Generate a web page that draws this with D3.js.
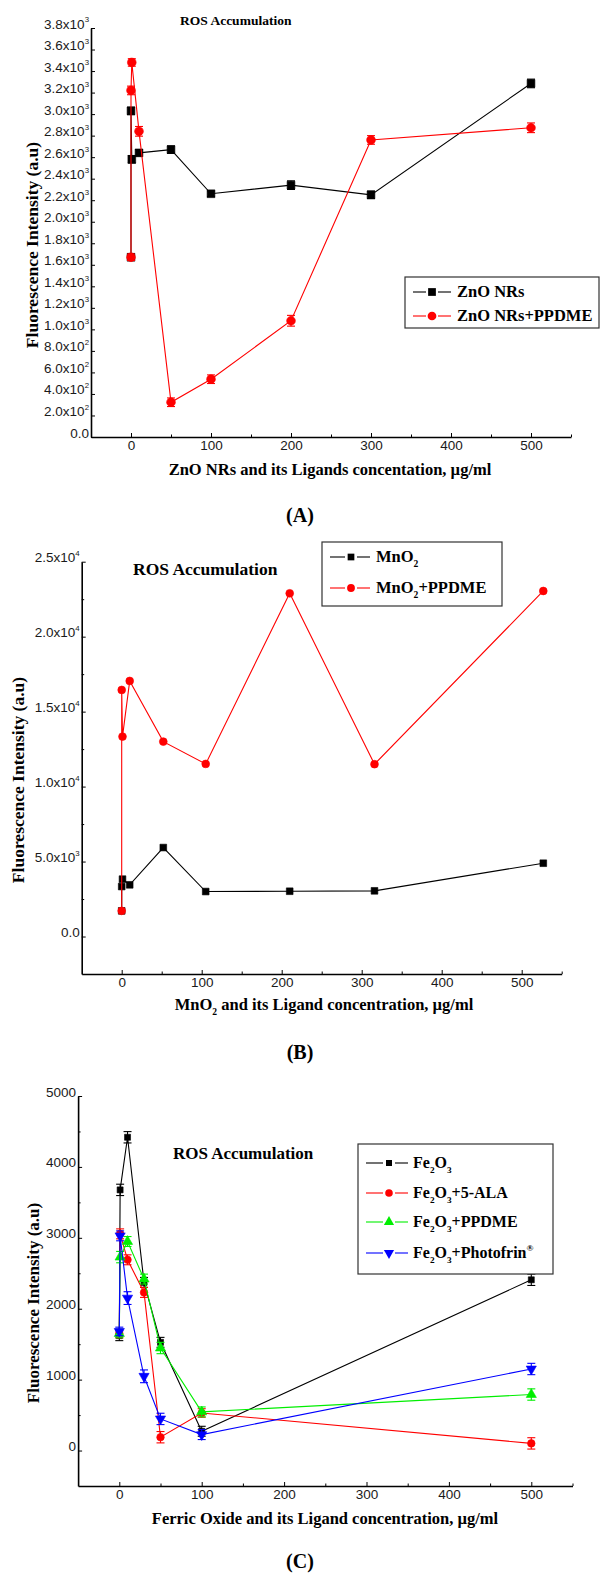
<!DOCTYPE html>
<html>
<head>
<meta charset="utf-8">
<script src="https://cdn.jsdelivr.net/npm/d3@7"></script>
<style>
  body { margin: 0; background: #fff; }
  svg { display: block; }
</style>
</head>
<body>
<div id="chart"></div>
<script>
// ---- Panel A: ZnO NRs ----
const concA = [0, 0, 1, 10, 50, 100, 200, 300, 500];
const znoNRs = [1670, 3030, 2580, 2640, 2670, 2260, 2340, 2250, 3285];
const znoNRsErr = [30, 35, 35, 30, 35, 25, 40, 35, 40];
const znoPpdme = [1670, 3220, 3480, 2840, 323, 537, 1080, 2760, 2873];
const znoPpdmeErr = [30, 40, 35, 45, 40, 40, 50, 40, 45];
const ticksA = d3.range(0, 3801, 200);

const concB = [0, 0, 1, 10, 52, 105, 210, 316, 527];
const mno2 = [1711, 3333, 3827, 3447, 5933, 3000, 3020, 3047, 4889];
const mno2Ppdme = [1711, 16447, 13333, 17047, 13000, 11513, 22893, 11493, 23047];
const ticksB = [0, 5000, 10000, 15000, 20000, 25000];

// ---- Panel C: Fe2O3 ----
const concC = [0, 1, 10, 30, 50, 100, 500];
const fe2o3 = [1620, 3676, 4418, 2371, 1526, 272, 2408];
const fe2o3Err = [70, 80, 80, 70, 70, 70, 80];
const fe2o3Ala = [1650, 3056, 2690, 2230, 188, 530, 101];
const fe2o3AlaErr = [60, 70, 70, 70, 80, 60, 80];
const fe2o3Ppdme = [1650, 2728, 2948, 2418, 1446, 545, 790];
const fe2o3PpdmeErr = [60, 80, 70, 70, 80, 70, 80];
const fe2o3Photo = [1680, 3028, 2150, 1047, 446, 225, 1150];
const fe2o3PhotoErr = [60, 70, 90, 90, 80, 70, 80];
const ticksC = [0, 1000, 2000, 3000, 4000, 5000];

const xTicks = [0, 100, 200, 300, 400, 500];

const serif = "'Liberation Serif', 'Times New Roman', serif";
const sans = "'Liberation Sans', Arial, sans-serif";

const svg = d3.select("#chart")
  .append("svg")
  .attr("width", 600)
  .attr("height", 1574);

// writes "_x" as subscript and "^x" as superscript
function richText(text, str, size) {
  let shift = 0;
  for (let i = 0; i < str.length; i++) {
    const c = str[i];
    if ((c === "_" || c === "^") && i + 1 < str.length) {
      const d = c === "_" ? size * 0.3 : -size * 0.45;
      text.append("tspan").attr("dy", d - shift).attr("font-size", size * 0.58).text(str[i + 1]);
      shift = d;
      i++;
    } else {
      let j = i;
      while (j < str.length && str[j] !== "_" && str[j] !== "^") j++;
      text.append("tspan").attr("dy", -shift).text(str.slice(i, j));
      shift = 0;
      i = j - 1;
    }
  }
}

function sciA(v) {
  if (v === 0) return "0.0";
  if (v < 1000) return (v / 100).toFixed(1) + "x10^2";
  return (v / 1000).toFixed(1) + "x10^3";
}
function sciB(v) {
  if (v === 0) return "0.0";
  if (v < 10000) return (v / 1000).toFixed(1) + "x10^3";
  return (v / 10000).toFixed(1) + "x10^4";
}

const symbols = {
  square: d3.symbolSquare,
  circle: d3.symbolCircle,
  up: d3.symbolTriangle,
  down: d3.symbolTriangle
};

function drawPanel(p) {
  const x = d3.scaleLinear().domain([-50, 550]).range(p.xRange);
  const y = d3.scaleLinear().domain(p.yDomain).range(p.yRange);
  const g = svg.append("g");
  const x0 = p.xRange[0];
  const yBase = p.yRange[0];

  // x axis
  g.append("g")
    .attr("transform", `translate(0,${yBase})`)
    .call(d3.axisBottom(x).tickValues(d3.range(50, 551, 100)).tickSizeInner(-2.5).tickSizeOuter(0).tickFormat(""))
    .call(a => a.select(".domain").remove());
  const xa = g.append("g")
    .attr("transform", `translate(0,${yBase})`)
    .call(d3.axisBottom(x).tickValues(xTicks).tickSizeInner(-4).tickSizeOuter(0).tickPadding(3).tickFormat(d3.format("d")));
  xa.selectAll("text").attr("font-family", sans).attr("font-size", 13.5).attr("fill", "#1a1a1a");

  // y axis
  if (p.yMinor) {
    g.append("g")
      .attr("transform", `translate(${x0},0)`)
      .call(d3.axisLeft(y).tickValues(p.yMinor).tickSizeInner(-2.5).tickSizeOuter(0).tickFormat(""))
      .call(a => a.select(".domain").remove());
  }
  const ya = g.append("g")
    .attr("transform", `translate(${x0},0)`)
    .call(d3.axisLeft(y).tickValues(p.yTicks).tickSizeInner(-4).tickSizeOuter(0).tickPadding(2));
  ya.selectAll(".tick text").each(function (d) {
    const t = d3.select(this).text(null)
      .attr("font-family", sans).attr("font-size", 13.5).attr("fill", "#1a1a1a");
    richText(t, p.yFormat(d), 13.5);
  });
  g.selectAll(".domain").attr("stroke-width", 1.6);
  g.selectAll(".tick line").attr("stroke-width", 1);

  // series
  p.series.forEach(s => {
    const pts = s.values.map((v, i) => ({ x: p.conc[i], y: v, e: s.err ? s.err[i] : 0 }));
    g.append("path")
      .datum(pts)
      .attr("fill", "none")
      .attr("stroke", s.color)
      .attr("stroke-width", 1.1)
      .attr("d", d3.line().x(d => x(d.x)).y(d => y(d.y)));

    if (s.err) {
      const eb = g.append("g").attr("stroke", s.color).attr("stroke-width", 1.1);
      pts.forEach(d => {
        const cx = x(d.x);
        eb.append("line").attr("x1", cx).attr("x2", cx).attr("y1", y(d.y - d.e)).attr("y2", y(d.y + d.e));
        [d.y - d.e, d.y + d.e].forEach(v => {
          eb.append("line").attr("x1", cx - 4).attr("x2", cx + 4).attr("y1", y(v)).attr("y2", y(v));
        });
      });
    }

    g.selectAll(null)
      .data(pts)
      .enter()
      .append("path")
      .attr("d", d3.symbol().type(symbols[s.shape]).size(s.size))
      .attr("transform", d => `translate(${x(d.x)},${y(d.y)})` + (s.shape === "down" ? " rotate(180)" : ""))
      .attr("fill", s.color)
      .attr("stroke", s.color)
      .attr("stroke-width", 0.6);
  });

  // title
  g.append("text")
    .attr("x", p.title[0]).attr("y", p.title[1])
    .attr("font-family", serif).attr("font-weight", "bold").attr("font-size", p.title[2])
    .text("ROS Accumulation");

  // y label
  g.append("text")
    .attr("transform", `translate(${p.yLabel[0]},${p.yLabel[1]}) rotate(-90)`)
    .attr("text-anchor", "middle").attr("dy", "0.35em")
    .attr("font-family", serif).attr("font-weight", "bold").attr("font-size", p.yLabel[2])
    .text("Fluorescence Intensity (a.u)");

  // x label
  const xl = g.append("text")
    .attr("x", p.xLabel[0]).attr("y", p.xLabel[1])
    .attr("text-anchor", "middle")
    .attr("font-family", serif).attr("font-weight", "bold").attr("font-size", 16.5);
  richText(xl, p.xLabelText, 16.5);

  // panel letter
  g.append("text")
    .attr("x", 300).attr("y", p.letter[1])
    .attr("text-anchor", "middle")
    .attr("font-family", serif).attr("font-weight", "bold").attr("font-size", 20)
    .text(p.letter[0]);

  // legend
  const L = p.legend;
  const lg = g.append("g");
  lg.append("rect")
    .attr("x", L.x).attr("y", L.y).attr("width", L.w).attr("height", L.h)
    .attr("fill", "#fff").attr("stroke", "#333").attr("stroke-width", 1.2);
  p.series.forEach((s, i) => {
    const ry = L.rows[i];
    const mx = L.x + L.mark;
    lg.append("line").attr("x1", L.x + 8).attr("x2", mx - 6).attr("y1", ry).attr("y2", ry).attr("stroke", s.color).attr("stroke-width", 1.1);
    lg.append("line").attr("x1", mx + 6).attr("x2", mx + 19).attr("y1", ry).attr("y2", ry).attr("stroke", s.color).attr("stroke-width", 1.1);
    lg.append("path")
      .attr("d", d3.symbol().type(symbols[s.shape]).size(s.size))
      .attr("transform", `translate(${mx},${ry})` + (s.shape === "down" ? " rotate(180)" : ""))
      .attr("fill", s.color);
    const t = lg.append("text")
      .attr("x", L.x + L.text).attr("y", ry + 5)
      .attr("font-family", serif).attr("font-weight", "bold").attr("font-size", L.font);
    richText(t, s.name, L.font);
  });
}

drawPanel({
  conc: concA,
  xRange: [91, 571],
  yDomain: [0, 3800], yRange: [437, 28],
  yTicks: ticksA, yFormat: sciA,
  series: [
    { name: "ZnO NRs", values: znoNRs, err: znoNRsErr, color: "#000", shape: "square", size: 60 },
    { name: "ZnO NRs+PPDME", values: znoPpdme, err: znoPpdmeErr, color: "#ff0000", shape: "circle", size: 60 }
  ],
  title: [180, 25, 13.5],
  yLabel: [32, 245, 17.5],
  xLabel: [330, 475], xLabelText: "ZnO NRs and its Ligands concentation, µg/ml",
  letter: ["(A)", 522],
  legend: { x: 405, y: 277, w: 194, h: 51, rows: [292, 316], mark: 27, text: 52, font: 16.5 }
});

drawPanel({
  conc: concB,
  xRange: [81.7, 561.7],
  yDomain: [-2500, 25000], yRange: [974, 561.7],
  yTicks: ticksB, yMinor: [2500, 7500, 12500, 17500, 22500], yFormat: sciB,
  series: [
    { name: "MnO_2", values: mno2, color: "#000", shape: "square", size: 45 },
    { name: "MnO_2+PPDME", values: mno2Ppdme, color: "#ff0000", shape: "circle", size: 48 }
  ],
  title: [133, 575, 17.5],
  yLabel: [18, 780, 17.5],
  xLabel: [324, 1010], xLabelText: "MnO_2 and its Ligand concentration, µg/ml",
  letter: ["(B)", 1059],
  legend: { x: 322, y: 542, w: 180, h: 64, rows: [557, 588], mark: 29, text: 54, font: 16.5 }
});

drawPanel({
  conc: concC,
  xRange: [78.1, 572.5],
  yDomain: [-500, 5000], yRange: [1486, 1096],
  yTicks: ticksC, yMinor: [500, 1500, 2500, 3500, 4500], yFormat: d => String(d),
  series: [
    { name: "Fe_2O_3", values: fe2o3, err: fe2o3Err, color: "#000", shape: "square", size: 36 },
    { name: "Fe_2O_3+5-ALA", values: fe2o3Ala, err: fe2o3AlaErr, color: "#ff0000", shape: "circle", size: 45 },
    { name: "Fe_2O_3+PPDME", values: fe2o3Ppdme, err: fe2o3PpdmeErr, color: "#00ee00", shape: "up", size: 45 },
    { name: "Fe_2O_3+Photofrin^®", values: fe2o3Photo, err: fe2o3PhotoErr, color: "#0000ff", shape: "down", size: 45 }
  ],
  title: [173, 1159, 17],
  yLabel: [33, 1303, 17],
  xLabel: [325, 1524], xLabelText: "Ferric Oxide and its Ligand concentration, µg/ml",
  letter: ["(C)", 1568],
  legend: { x: 358, y: 1144, w: 195, h: 130, rows: [1163, 1193, 1222, 1253], mark: 31, text: 55, font: 16 }
});
</script>
</body>
</html>
